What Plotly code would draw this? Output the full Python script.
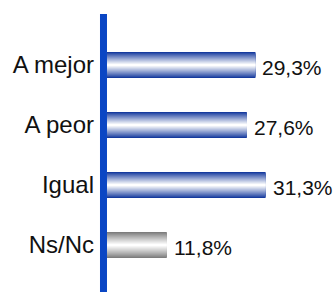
import plotly.graph_objects as go

categories = ["A mejor", "A peor", "Igual", "Ns/Nc"]
values = [29.3, 27.6, 31.3, 11.8]
value_labels = ["29,3%", "27,6%", "31,3%", "11,8%"]
edge_colors = [(22, 58, 158), (22, 58, 158), (22, 58, 158), (125, 125, 125)]

N = 13
W0 = 0.435
fig = go.Figure()

def mix(c, t):
    r, g, b = c
    return "rgb(%d,%d,%d)" % (r + (255 - r) * t, g + (255 - g) * t, b + (255 - b) * t)

for k in range(N):
    t = (k / (N - 1)) ** 0.9
    w = W0 * (1 - k / N)
    fig.add_trace(go.Bar(
        x=values, y=categories, orientation="h",
        width=w,
        marker=dict(color=[mix(c, t) for c in edge_colors], line=dict(width=0)),
        hoverinfo="skip", showlegend=False,
    ))

for v, cat, lab in zip(values, categories, value_labels):
    fig.add_annotation(x=v, y=cat, text=lab, showarrow=False, xanchor="left",
                       xshift=5, yshift=-2,
                       font=dict(family="Arial, Liberation Sans", size=21, color="#111"))

fig.add_shape(type="line", xref="paper", yref="paper",
              x0=-0.0154, x1=-0.0154, y0=1.0875, y1=-0.08,
              line=dict(color="#0a46c4", width=7))

fig.update_layout(
    width=335, height=292,
    margin=dict(l=107, r=0, t=35, b=17, autoexpand=False),
    barmode="overlay",
    plot_bgcolor="white", paper_bgcolor="white",
    xaxis=dict(range=[0, 45], visible=False, automargin=False),
    yaxis=dict(categoryorder="array", categoryarray=categories, automargin=False,
               range=[3.5, -0.5], showgrid=False, zeroline=False, showline=False,
               ticks="", ticklabelstandoff=12,
               tickfont=dict(family="Arial, Liberation Sans", size=24, color="#111")),
)

fig.write_html("out.html", config={"displayModeBar": False, "staticPlot": True},
               post_script="document.body.style.margin='0';document.body.style.padding='0';")
